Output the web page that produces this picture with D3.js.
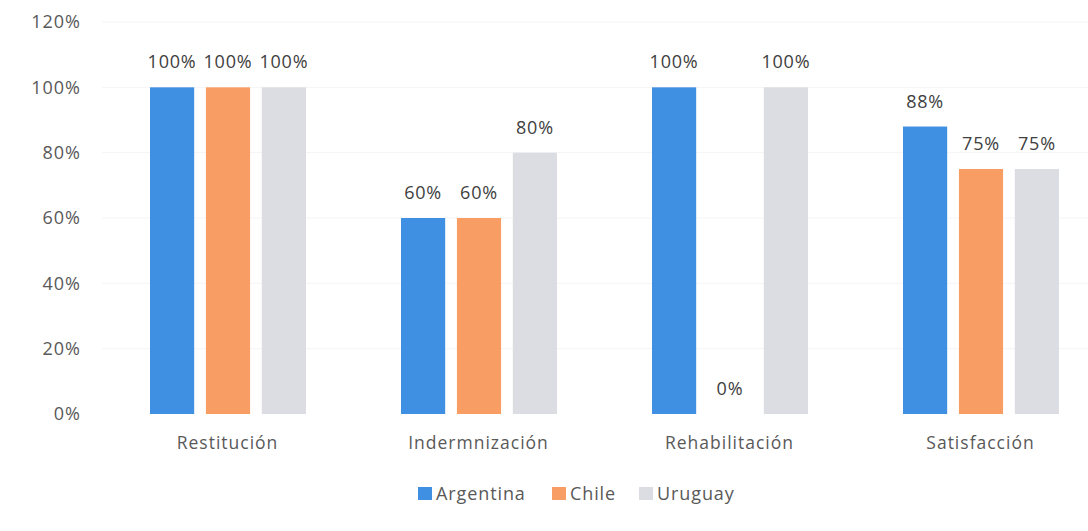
<!DOCTYPE html>
<html>
<head>
<meta charset="utf-8">
<script src="https://cdn.jsdelivr.net/npm/d3@7"></script>
<style>
  body { margin: 0; background: #fff; }
  svg { display: block; font-family: "Open Sans", "Noto Sans", sans-serif; }
</style>
</head>
<body>
<svg width="1088" height="531"></svg>
<script>
const categories = ["Restitución", "Indermnización", "Rehabilitación", "Satisfacción"];
const seriesNames = ["Argentina", "Chile", "Uruguay"];
const argentina = [100, 60, 100, 88];
const chile = [100, 60, 0, 75];
const uruguay = [100, 80, 100, 75];
const yTicks = [0, 20, 40, 60, 80, 100, 120];
const colors = ["#3f8fe2", "#f89d63", "#dcdde2"];

const seriesValues = [argentina, chile, uruguay];

const svg = d3.select("svg");
const textColor = "#595959";

const xScale = d3.scaleBand().domain(categories).range([102, 1106]);
// bars occupy the middle of each category band
const inner = d3.scaleBand().domain(seriesNames).range([48, 204]).paddingInner(0.21).paddingOuter(0);
const yScale = d3.scaleLinear().domain([0, 120]).range([414, 22]);

// faint gridlines (barely visible in the scan)
svg.append("g")
    .selectAll("line")
    .data(yTicks.slice(1))
    .enter().append("line")
    .attr("x1", 102).attr("x2", 1088)
    .attr("y1", d => yScale(d)).attr("y2", d => yScale(d))
    .style("stroke", "#f5f5f5")
    .style("stroke-width", 1);

// y axis
const yAxis = svg.append("g")
    .attr("transform", "translate(81,0)")
    .call(d3.axisLeft(yScale).tickValues(yTicks).tickSize(0).tickPadding(0).tickFormat(d => d + "%"));
yAxis.select(".domain").remove();
yAxis.selectAll("text")
    .style("font-family", "'Open Sans', sans-serif")
    .style("font-size", "18px")
    .style("letter-spacing", "1px")
    .style("fill", textColor);

// bars
const groups = svg.append("g")
    .selectAll("g")
    .data(categories)
    .enter().append("g")
    .attr("transform", d => "translate(" + xScale(d) + ",0)");

groups.each(function(cat, ci) {
    const g = d3.select(this);
    seriesNames.forEach(function(name, si) {
        const v = seriesValues[si][ci];
        g.append("rect")
            .attr("x", inner(name))
            .attr("width", inner.bandwidth())
            .attr("y", yScale(v))
            .attr("height", yScale(0) - yScale(v))
            .style("fill", colors[si]);
        g.append("text")
            .attr("x", inner(name) + inner.bandwidth() / 2)
            .attr("y", yScale(v) - 19)
            .attr("text-anchor", "middle")
            .style("font-size", "18px")
            .style("letter-spacing", "0.8px")
            .style("fill", "#404040")
            .text(v + "%");
    });
});

// x axis labels
const xAxis = svg.append("g")
    .attr("transform", "translate(0,414)")
    .call(d3.axisBottom(xScale).tickSize(0).tickPadding(23));
xAxis.select(".domain").remove();
xAxis.selectAll("text")
    .style("font-family", "'Open Sans', sans-serif")
    .style("font-size", "17.5px")
    .style("letter-spacing", "1px")
    .style("fill", textColor);

// legend
const legendX = [418, 552, 639];
const legend = svg.append("g");
seriesNames.forEach(function(name, i) {
    legend.append("rect")
        .attr("x", legendX[i]).attr("y", 487)
        .attr("width", 14).attr("height", 13)
        .style("fill", colors[i]);
    legend.append("text")
        .attr("x", legendX[i] + 18).attr("y", 500)
        .style("font-size", "18px")
        .style("letter-spacing", "0.9px")
        .style("fill", textColor)
        .text(name);
});
</script>
</body>
</html>
